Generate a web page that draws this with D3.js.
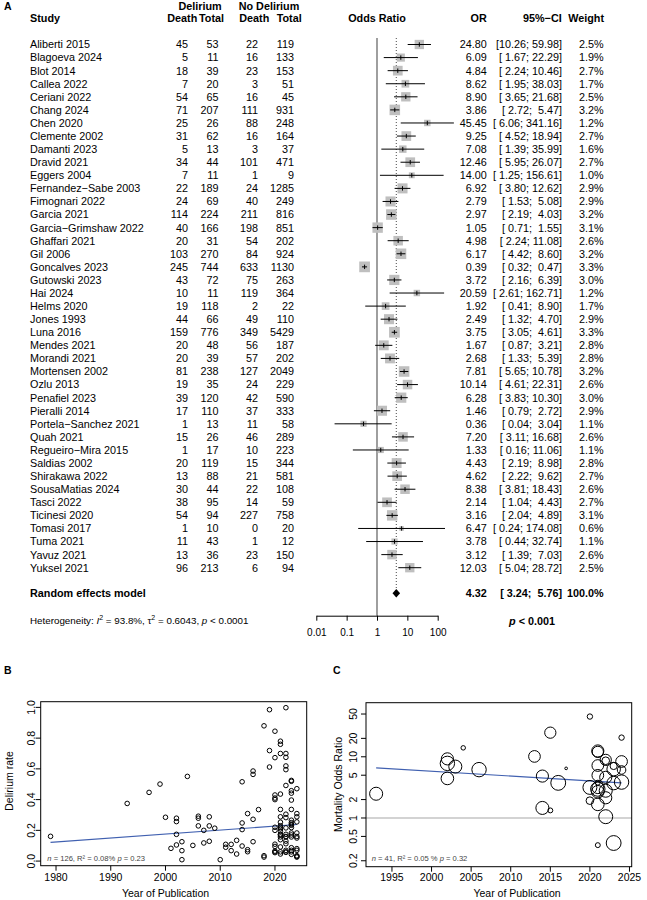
<!DOCTYPE html>
<html><head><meta charset="utf-8">
<script src="https://cdn.jsdelivr.net/npm/d3@7"></script>
<style>
html,body{margin:0;padding:0;background:#fff;}
svg text{font-family:"Liberation Sans",Arial,sans-serif;fill:#000;}
</style></head>
<body><svg id="c" width="647" height="900"></svg>
<script>
// ---------- Panel A data ----------
const studies = ["Aliberti 2015","Blagoeva 2024","Blot 2014","Callea 2022","Ceriani 2022","Chang 2024","Chen 2020","Clemente 2002","Damanti 2023","Dravid 2021","Eggers 2004","Fernandez\u2212Sabe 2003","Fimognari 2022","Garcia 2021","Garcia\u2212Grimshaw 2022","Ghaffari 2021","Gil 2006","Goncalves 2023","Gutowski 2023","Hai 2024","Helms 2020","Jones 1993","Luna 2016","Mendes 2021","Morandi 2021","Mortensen 2002","Ozlu 2013","Penafiel 2023","Pieralli 2014","Portela\u2212Sanchez 2021","Quah 2021","Regueiro\u2212Mira 2015","Saldias 2002","Shirakawa 2022","SousaMatias 2024","Tasci 2022","Ticinesi 2020","Tomasi 2017","Tuma 2021","Yavuz 2021","Yuksel 2021"];
const studyYears = [2015,2024,2014,2022,2022,2024,2020,2002,2023,2021,2004,2003,2022,2021,2022,2021,2006,2023,2023,2024,2020,1993,2016,2021,2021,2002,2013,2023,2014,2021,2021,2015,2002,2022,2024,2022,2020,2017,2021,2021,2021];
const deathDel = [45,5,18,7,54,71,25,31,5,34,7,22,24,114,40,20,103,245,43,10,19,44,159,20,20,81,19,39,17,1,15,1,20,13,30,38,54,1,11,13,96];
const totalDel = [53,11,39,20,65,207,26,62,13,44,11,189,69,224,166,31,270,744,72,11,118,66,776,48,39,238,35,120,110,13,26,17,119,88,44,95,94,10,43,36,213];
const deathNo = [22,16,23,3,16,111,88,16,3,101,1,24,40,211,198,54,84,633,75,119,2,49,349,56,57,127,24,42,37,11,46,10,15,21,22,14,227,0,1,23,6];
const totalNo = [119,133,153,51,45,931,248,164,37,471,9,1285,249,816,851,202,924,1130,263,364,22,110,5429,187,202,2049,229,590,333,58,289,223,344,581,108,59,758,20,12,150,94];
const oddsRatio = [24.80,6.09,4.84,8.62,8.90,3.86,45.45,9.25,7.08,12.46,14.00,6.92,2.79,2.97,1.05,4.98,6.17,0.39,3.72,20.59,1.92,2.49,3.75,1.67,2.68,7.81,10.14,6.28,1.46,0.36,7.20,1.33,4.43,4.62,8.38,2.14,3.16,6.47,3.78,3.12,12.03];
const ciLower = [10.26,1.67,2.24,1.95,3.65,2.72,6.06,4.52,1.39,5.95,1.25,3.80,1.53,2.19,0.71,2.24,4.42,0.32,2.16,2.61,0.41,1.32,3.05,0.87,1.33,5.65,4.61,3.83,0.79,0.04,3.11,0.16,2.19,2.22,3.81,1.04,2.04,0.24,0.44,1.39,5.04];
const ciUpper = [59.98,22.29,10.46,38.03,21.68,5.47,341.16,18.94,35.99,26.07,156.61,12.62,5.08,4.03,1.55,11.08,8.60,0.47,6.39,162.71,8.90,4.70,4.61,3.21,5.39,10.78,22.31,10.30,2.72,3.04,16.68,11.06,8.98,9.62,18.43,4.43,4.89,174.08,32.74,7.03,28.72];
const weights = [2.5,1.9,2.7,1.7,2.5,3.2,1.2,2.7,1.6,2.7,1.0,2.9,2.9,3.2,3.1,2.6,3.2,3.3,3.0,1.2,1.7,2.9,3.3,2.8,2.8,3.2,2.6,3.0,2.9,1.1,2.6,1.1,2.8,2.7,2.6,2.7,3.1,0.6,1.1,2.6,2.5];
const pooled = {or:4.32, lower:3.24, upper:5.76, weight:100.0};
const forestTicks = [0.01,0.1,1,10,100];

// ---------- Panel B data (delirium rate vs year) ----------
const bYears = [1979,1993,1997,1999,2000,2001,2002,2002,2002,2002,2003,2003,2003,2004,2005,2006,2006,2006,2007,2007,2008,2008,2008,2009,
 2010,2011,2011,2012,2012,2013,2013,2014,2014,2014,2014,2015,2015,2015,2016,2016,2016,2016,2017,2018,2018,2018,2019,2019,2019,
 2020,2020,2020,2020,2020,2020,2020,2020,2020,2020,2020,2020,
 2021,2021,2021,2021,2021,2021,2021,2021,2021,2021,2021,2021,2021,2021,2021,2021,2021,2021,
 2022,2022,2022,2022,2022,2022,2022,2022,2022,2022,2022,2022,2022,2022,2022,2022,2022,
 2023,2023,2023,2023,2023,2023,2023,2023,2023,2023,2023,2023,2023,2023,2023,2023,2023,2023,
 2024,2024,2024,2024,2024,2024,2024,2024,2024,2024,2024,2024];
const bRates = [0.161,0.375,0.447,0.501,0.285,0.083,0.279,0.257,0.174,0.105,0.126,0.068,0.009,0.551,0.102,0.292,0.279,0.229,0.200,0.118,0.288,0.229,0.129,0.214,
 0.009,0.109,0.090,0.109,0.068,0.135,0.046,0.516,0.248,0.205,0.098,0.309,0.074,0.061,0.586,0.564,0.272,0.126,0.335,0.880,0.035,0.026,0.985,0.719,0.612,
 0.845,0.673,0.430,0.410,0.400,0.220,0.110,0.095,0.065,0.055,0.060,0.200,
 0.780,0.760,0.700,0.436,0.336,0.288,0.253,0.230,0.210,0.194,0.174,0.157,0.139,0.092,0.046,0.170,0.220,0.060,
 0.998,0.700,0.675,0.619,0.595,0.492,0.305,0.283,0.216,0.174,0.157,0.130,0.113,0.070,0.057,0.160,0.060,
 0.525,0.519,0.458,0.442,0.397,0.336,0.266,0.250,0.233,0.218,0.183,0.157,0.087,0.070,0.044,0.240,0.170,0.060,
 0.471,0.309,0.288,0.255,0.183,0.150,0.081,0.070,0.035,0.026,0.160,0.030];
const bRegYears = [1979,2024];
const bRegValues = [0.122,0.238];
const bXTicks = [1980,1990,2000,2010,2020];
const bYTicks = [0,0.2,0.4,0.6,0.8,1.0];

// ---------- Panel C data ----------
const cRegYears = [1993,2024];
const cRegValues = [6.6,3.75];
const cXTicks = [1995,2000,2005,2010,2015,2020,2025];
const cYTicks = [0.2,0.5,1,2,5,10,20,50];

const svg = d3.select("#c");
svg.append("rect").attr("width",647).attr("height",900).attr("fill","#fff");
const FS = 10.8;
const T = (x,y,s,o={}) => {
  const t = svg.append("text").attr("x",x).attr("y",y).text(s).style("font-size",(o.size||FS)+"px");
  if(o.anchor) t.attr("text-anchor",o.anchor);
  if(o.bold) t.style("font-weight","bold");
  if(o.fill) t.style("fill",o.fill);
  if(o.pre) t.attr("xml:space","preserve").style("white-space","pre");
  return t;
};

// ---------- Panel A ----------
T(4,9.6,"A",{bold:true,size:10.5});
T(200,9.6,"Delirium",{bold:true,anchor:"middle"});
T(269,9.6,"No Delirium",{bold:true,anchor:"middle"});
T(30,22.2,"Study",{bold:true});
T(197.3,22.2,"Death",{bold:true,anchor:"end"});
T(224,22.2,"Total",{bold:true,anchor:"end"});
T(269.3,22.2,"Death",{bold:true,anchor:"end"});
T(301.7,22.2,"Total",{bold:true,anchor:"end"});
T(377,22.2,"Odds Ratio",{bold:true,anchor:"middle"});
T(486.7,22.2,"OR",{bold:true,anchor:"end"});
T(561.7,22.2,"95%\u2212CI",{bold:true,anchor:"end"});
T(604,22.2,"Weight",{bold:true,anchor:"end"});

const yRow = d3.scalePoint().domain(d3.range(studies.length)).range([44.5,567.7]);
const xOR = d3.scaleLog().domain([0.01,100]).range([316.3,437.7]);
const base = 3.9;
const colX = {study:30, dd:188, td:218.5, dn:258, tn:294, or:486.7, ci:562, w:603.5};
const fmt2 = d3.format(".2f");
const ciStr = (l,u) => "[" + fmt2(l).padStart(5," ") + "; " + fmt2(u).padStart(5," ") + "]";

studies.forEach((s,i)=>{
  const y = yRow(i)+base;
  T(colX.study,y,s);
  T(colX.dd,y,deathDel[i],{anchor:"end"});
  T(colX.td,y,totalDel[i],{anchor:"end"});
  T(colX.dn,y,deathNo[i],{anchor:"end"});
  T(colX.tn,y,totalNo[i],{anchor:"end"});
  T(colX.or,y,fmt2(oddsRatio[i]),{anchor:"end"});
  T(colX.ci,y,ciStr(ciLower[i],ciUpper[i]),{anchor:"end",pre:true});
  T(colX.w,y,weights[i].toFixed(1)+"%",{anchor:"end"});
});
const yPool = 593.3;
T(30,yPool+base,"Random effects model",{bold:true});
T(colX.or,yPool+base,fmt2(pooled.or),{anchor:"end",bold:true});
T(colX.ci,yPool+base,ciStr(pooled.lower,pooled.upper),{anchor:"end",bold:true,pre:true});
T(colX.w,yPool+base,pooled.weight.toFixed(1)+"%",{anchor:"end",bold:true});

// heterogeneity
const het = svg.append("text").attr("x",30).attr("y",620.7+3.5).style("font-size","9.8px");
het.append("tspan").text("Heterogeneity: ");
het.append("tspan").text("I").style("font-style","italic");
het.append("tspan").text("2").attr("dy",-4).style("font-size","7px");
het.append("tspan").text(" = 93.8%, \u03c4").attr("dy",4);
het.append("tspan").text("2").attr("dy",-4).style("font-size","7px");
het.append("tspan").text(" = 0.6043, ").attr("dy",4);
het.append("tspan").text("p").style("font-style","italic");
het.append("tspan").text(" < 0.0001");

const pt = svg.append("text").attr("x",532).attr("y",620.7+3.8).attr("text-anchor","middle").style("font-size",FS+"px").style("font-weight","bold");
pt.append("tspan").text("p").style("font-style","italic");
pt.append("tspan").text(" < 0.001");

// reference lines
const axisY = 615.7;
svg.append("line").attr("x1",xOR(1)).attr("x2",xOR(1)).attr("y1",38).attr("y2",axisY).attr("stroke","#6b6b6b").attr("stroke-width",1.3);
svg.append("line").attr("x1",xOR(pooled.or)).attr("x2",xOR(pooled.or)).attr("y1",38).attr("y2",yPool).attr("stroke","#333").attr("stroke-width",0.9).attr("stroke-dasharray","1,2");

// squares + CI
const sq = w => 5.9*Math.sqrt(w);
studies.forEach((s,i)=>{
  const y = yRow(i), x = xOR(oddsRatio[i]), a = sq(weights[i]);
  svg.append("rect").attr("x",x-a/2).attr("y",y-a/2).attr("width",a).attr("height",a).attr("fill","#bfbfbf");
  svg.append("line").attr("x1",xOR(ciLower[i])).attr("x2",xOR(ciUpper[i])).attr("y1",y).attr("y2",y).attr("stroke","#000").attr("stroke-width",1);
  svg.append("line").attr("x1",x).attr("x2",x).attr("y1",y-2.2).attr("y2",y+2.2).attr("stroke","#000").attr("stroke-width",1);
});
// diamond
const dh = 4.2;
svg.append("path").attr("d",`M${xOR(pooled.lower)},${yPool} L${xOR(pooled.or)},${yPool-dh} L${xOR(pooled.upper)},${yPool} L${xOR(pooled.or)},${yPool+dh} Z`).attr("fill","#000");

// axis
const gA = svg.append("g").attr("transform",`translate(0,${axisY})`)
  .call(d3.axisBottom(xOR).tickValues(forestTicks).tickFormat(d=>String(d)).tickSize(5).tickPadding(8).tickSizeOuter(0));
gA.selectAll("text").style("font-size","10px").style("font-family","Liberation Sans, Arial, sans-serif");
gA.select(".domain").attr("stroke","#000");

// ---------- Panel B ----------
T(4,673.8,"B",{bold:true,size:10.5});
const bBox = {l:40.7,r:306.7,t:701.7,b:865.7};
const xB = d3.scaleLinear().domain([1977.2,2025.8]).range([bBox.l,bBox.r]);
const yB = d3.scaleLinear().domain([-0.03,1.037]).range([bBox.b,bBox.t]);
const gB = svg.append("g");
gB.append("line").attr("x1",xB(bRegYears[0])).attr("x2",xB(bRegYears[1])).attr("y1",yB(bRegValues[0])).attr("y2",yB(bRegValues[1])).attr("stroke","#4060b0").attr("stroke-width",1.1);
gB.selectAll("circle").data(bYears).join("circle")
  .attr("cx",(d)=>xB(d)).attr("cy",(d,i)=>yB(bRates[i])).attr("r",2.3)
  .attr("fill","none").attr("stroke","#000").attr("stroke-width",1);
gB.append("rect").attr("x",bBox.l).attr("y",bBox.t).attr("width",bBox.r-bBox.l).attr("height",bBox.b-bBox.t).attr("fill","none").attr("stroke","#000").attr("stroke-width",1);
const LS = 10.5;
bXTicks.forEach(v=>{
  gB.append("line").attr("x1",xB(v)).attr("x2",xB(v)).attr("y1",bBox.b).attr("y2",bBox.b+5).attr("stroke","#000");
  T(xB(v),880.5,v,{anchor:"middle",size:LS});
});
bYTicks.forEach(v=>{
  gB.append("line").attr("x1",bBox.l).attr("x2",bBox.l-5).attr("y1",yB(v)).attr("y2",yB(v)).attr("stroke","#000");
  T(0,0,d3.format(".1f")(v),{anchor:"middle",size:LS}).attr("transform",`translate(35,${yB(v)}) rotate(-90)`);
});
T(0,0,"Delirium rate",{anchor:"middle",size:LS}).attr("transform",`translate(12.5,781) rotate(-90)`);
T(165.5,897.3,"Year of Publication",{anchor:"middle",size:LS});
const annB = svg.append("text").attr("x",47.3).attr("y",861).style("font-size","7.6px").style("fill","#444");
annB.append("tspan").text("n").style("font-style","italic").style("fill","#444");
annB.append("tspan").text(" = 126, R\u00b2 = 0.08% ").style("fill","#444");
annB.append("tspan").text("p").style("font-style","italic").style("fill","#444");
annB.append("tspan").text(" = 0.23").style("fill","#444");

// ---------- Panel C ----------
T(333,673.8,"C",{bold:true,size:10.5});
const cBox = {l:366,r:631.7,t:702.7,b:866.7};
const xC = d3.scaleLinear().domain([1991.72,2025.28]).range([cBox.l,cBox.r]);
const yC = d3.scaleLog().domain([Math.pow(10,-0.796),Math.pow(10,1.884)]).range([cBox.b,cBox.t]);
const gC = svg.append("g");
gC.append("line").attr("x1",cBox.l).attr("x2",cBox.r).attr("y1",yC(1)).attr("y2",yC(1)).attr("stroke","#d3d3d3").attr("stroke-width",2);
gC.append("line").attr("x1",xC(cRegYears[0])).attr("x2",xC(cRegYears[1])).attr("y1",yC(cRegValues[0])).attr("y2",yC(cRegValues[1])).attr("stroke","#4060b0").attr("stroke-width",1.1);
gC.selectAll("circle").data(studyYears).join("circle")
  .attr("cx",d=>xC(d)).attr("cy",(d,i)=>yC(oddsRatio[i])).attr("r",(d,i)=>2.25*weights[i])
  .attr("fill","none").attr("stroke","#000").attr("stroke-width",1);
gC.append("rect").attr("x",cBox.l).attr("y",cBox.t).attr("width",cBox.r-cBox.l).attr("height",cBox.b-cBox.t).attr("fill","none").attr("stroke","#000").attr("stroke-width",1);
cXTicks.forEach(v=>{
  gC.append("line").attr("x1",xC(v)).attr("x2",xC(v)).attr("y1",cBox.b).attr("y2",cBox.b+5).attr("stroke","#000");
  T(xC(v),880.5,v,{anchor:"middle",size:LS});
});
cYTicks.forEach(v=>{
  gC.append("line").attr("x1",cBox.l).attr("x2",cBox.l-5).attr("y1",yC(v)).attr("y2",yC(v)).attr("stroke","#000");
  T(0,0,String(v),{anchor:"middle",size:LS}).attr("transform",`translate(357,${yC(v)}) rotate(-90)`);
});
T(0,0,"Mortality Odds Ratio",{anchor:"middle",size:LS}).attr("transform",`translate(341.5,784.5) rotate(-90)`);
T(517,897.3,"Year of Publication",{anchor:"middle",size:LS});
const annC = svg.append("text").attr("x",371.7).attr("y",861).style("font-size","7.6px").style("fill","#444");
annC.append("tspan").text("n").style("font-style","italic").style("fill","#444");
annC.append("tspan").text(" = 41, R\u00b2 = 0.05 % ").style("fill","#444");
annC.append("tspan").text("p").style("font-style","italic").style("fill","#444");
annC.append("tspan").text(" = 0.32").style("fill","#444");
</script></body></html>
